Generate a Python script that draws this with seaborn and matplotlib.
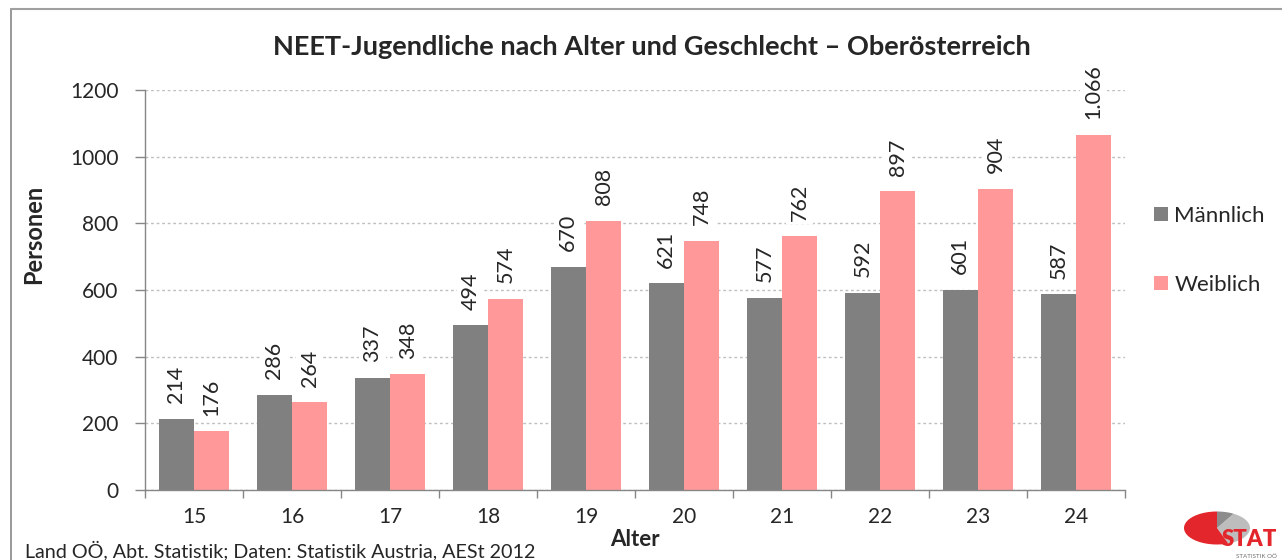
import matplotlib
matplotlib.use("Agg")
import matplotlib.pyplot as plt
import seaborn as sns
import pandas as pd
import numpy as np
from matplotlib.patches import Rectangle, Polygon
from matplotlib.lines import Line2D

ages = ["15", "16", "17", "18", "19", "20", "21", "22", "23", "24"]
maennlich = [214, 286, 337, 494, 670, 621, 577, 592, 601, 587]
weiblich = [176, 264, 348, 574, 808, 748, 762, 897, 904, 1066]
series = ["Männlich", "Weiblich"]
colors = ["#808080", "#FF9999"]

df = pd.DataFrame({
    "Alter": ages * 2,
    "Personen": maennlich + weiblich,
    "Geschlecht": [series[0]] * len(ages) + [series[1]] * len(ages),
})

sns.set_style("white")
plt.rcParams["font.family"] = ["Lato", "DejaVu Sans"]

W, H = 1282, 560
fig = plt.figure(figsize=(W / 100, H / 100), dpi=100)
ax = fig.add_axes([145 / W, 1 - 490 / H, (1125 - 145) / W, 400 / H])

sns.barplot(data=df, x="Alter", y="Personen", hue="Geschlecht",
            palette=colors, saturation=1, width=0.72, ax=ax, legend=False,
            edgecolor="none", linewidth=0, zorder=2)

ax.set_ylim(0, 1200)
ax.set_xlim(-0.5, len(ages) - 0.5)
ax.set_yticks(np.arange(0, 1201, 200))
ax.yaxis.grid(True, linestyle=(0, (2, 2)), color="#BFBFBF", linewidth=1, zorder=0)
ax.set_axisbelow(True)
ax.xaxis.grid(False)

for s in ["top", "right"]:
    ax.spines[s].set_visible(False)
for s in ["left", "bottom"]:
    ax.spines[s].set_color("#868686")
    ax.spines[s].set_linewidth(1)

ax.tick_params(axis="y", which="major", length=7, width=1, color="#868686",
               direction="out", labelsize=15, pad=12, left=True)
ax.tick_params(axis="x", which="major", length=0, labelsize=15, pad=12)
ax.set_xticks(np.arange(-0.5, len(ages), 1.0), minor=True)
ax.tick_params(axis="x", which="minor", length=6, width=1, color="#868686",
               direction="out", bottom=True)

ax.set_xlabel("Alter", fontsize=16, fontweight="bold", labelpad=2)
ax.set_ylabel("Personen", fontsize=17, fontweight="bold", labelpad=18)
ax.yaxis.label.set_y((490 - 234) / 400)

def fmt(v):
    return f"{v:,}".replace(",", ".")

for cont in ax.containers:
    for bar in cont:
        h = bar.get_height()
        ax.annotate(fmt(int(round(h))),
                    xy=(bar.get_x() + bar.get_width() / 2, h),
                    xytext=(0, 11), textcoords="offset points",
                    rotation=90, ha="center", va="bottom", fontsize=15.5,
                    bbox=dict(boxstyle="square,pad=0.15", fc="white", ec="none"),
                    zorder=3, annotation_clip=False)

fig.text(652 / W, 1 - 47 / H,
         "NEET-Jugendliche nach Alter und Geschlecht – Oberösterreich",
         ha="center", va="center", fontsize=19.5, fontweight="bold")

# legend
handles = [Rectangle((0, 0), 1, 1, fc=c, ec="none") for c in colors]
leg = fig.legend(handles, series, loc="upper left",
                 bbox_to_anchor=(1134 / W, 1 - 186 / H),
                 frameon=False, fontsize=16, handlelength=0.62, handleheight=0.62,
                 handletextpad=0.3, labelspacing=2.2)

# outer frame
fig.add_artist(Line2D([11 / W, 11 / W], [0, 1 - 9 / H],
                      transform=fig.transFigure, color="#868686", lw=1.2))
fig.add_artist(Line2D([11 / W, 1], [1 - 9 / H, 1 - 9 / H],
                      transform=fig.transFigure, color="#A0A0A0", lw=1.5))

# footer
fig.text(25 / W, 1 - 557 / H,
         "Land OÖ, Abt. Statistik; Daten: Statistik Austria, AESt 2012",
         ha="left", va="baseline", fontsize=14.2)

# small logo (pixel coordinates)
x0, x1, y0, y1 = 1160, 1282, 500, 560
lax = fig.add_axes([x0 / W, 0, (x1 - x0) / W, (y1 - y0) / H])
lax.set_xlim(x0, x1)
lax.set_ylim(y1, y0)
lax.axis("off")
cx, cy, a, b = 1217, 528, 33, 16.5
def arc(t0, t1, n=60):
    t = np.radians(np.linspace(t0, t1, n))
    pts = np.column_stack([cx + a * np.cos(t), cy - b * np.sin(t)])
    return np.vstack([[cx, cy], pts])
lax.add_patch(Polygon(arc(-70, 60), closed=True, fc="#BDBDBD", ec="none"))
lax.add_patch(Polygon(arc(60, 90), closed=True, fc="#8C8C8C", ec="none"))
lax.add_patch(Polygon(arc(90, 290), closed=True, fc="#E3262B", ec="none"))
lax.text(1277, 540, "STAT", color="#E3262B", fontsize=16, fontweight="heavy",
         ha="right", va="center")
lax.text(1277, 556, "STATISTIK OÖ", color="#707070", fontsize=4.5,
         ha="right", va="center")

fig.savefig("out.png", dpi=100)
